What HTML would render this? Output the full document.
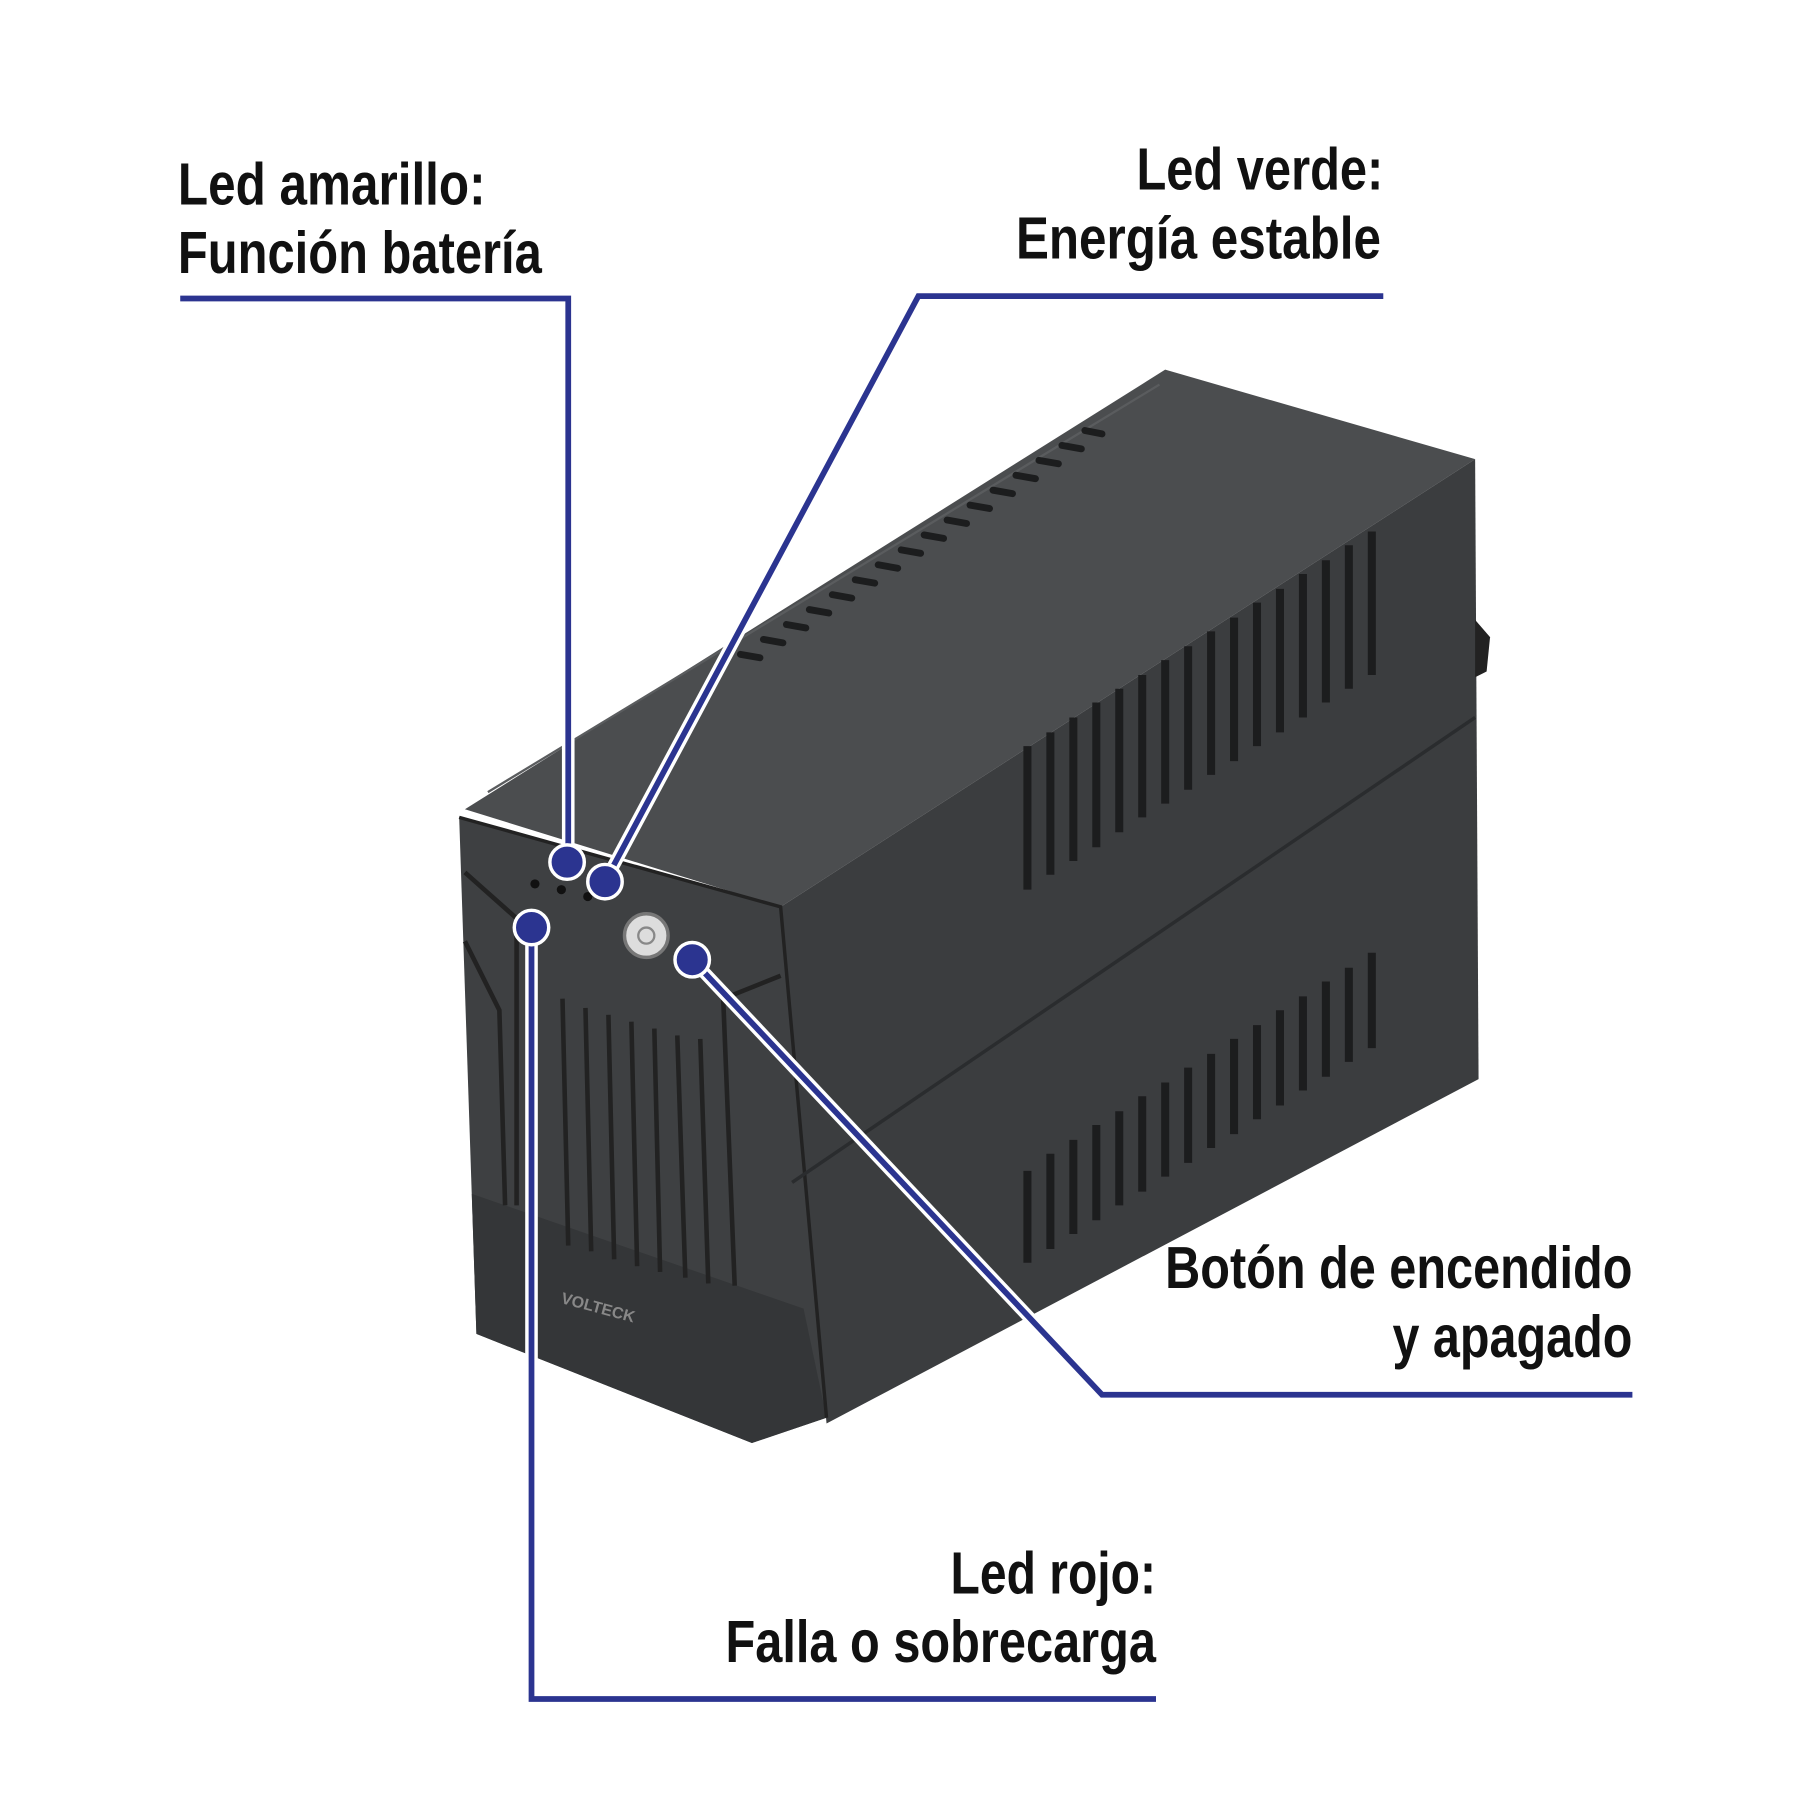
<!DOCTYPE html>
<html><head><meta charset="utf-8"><style>
html,body{margin:0;padding:0;background:#fff;}
svg{display:block;}
text{font-family:"Liberation Sans",sans-serif;font-weight:bold;fill:#111;font-size:52px;}
</style></head><body>
<svg width="1800" height="1800" viewBox="0 0 1568 1568" xmlns="http://www.w3.org/2000/svg">
<polygon points="405,705 1015,322 1285,400 680,790" fill="#4b4d4f"/>
<polygon points="680,790 1285,400 1288,940 720,1240" fill="#3b3d3f"/>
<polygon points="1285,540 1298,555 1295,585 1285,590" fill="#222"/>
<polygon points="400,712 680,790 720,1235 655,1257 415,1162" fill="#3e4042"/>
<polygon points="411,1040 700,1140 720,1235 655,1257 415,1162" fill="#343638"/>
<polyline points="400,712 680,790 720,1235" fill="none" stroke="#222" stroke-width="3"/>
<line x1="690" y1="1030" x2="1285" y2="625" stroke="#2a2c2e" stroke-width="3"/>
<line x1="425" y1="690" x2="1010" y2="335" stroke="#5a5c5e" stroke-width="2"/>
<g stroke="#1c1d1e" stroke-width="6" stroke-linecap="round">
<line x1="945" y1="375" x2="960" y2="378"/><line x1="925" y1="388" x2="942" y2="391"/>
<line x1="905" y1="401" x2="922" y2="404"/><line x1="885" y1="414" x2="902" y2="417"/>
<line x1="865" y1="427" x2="882" y2="430"/><line x1="845" y1="440" x2="862" y2="443"/>
<line x1="825" y1="453" x2="842" y2="456"/><line x1="805" y1="466" x2="822" y2="469"/>
<line x1="785" y1="479" x2="802" y2="482"/><line x1="765" y1="492" x2="782" y2="495"/>
<line x1="745" y1="505" x2="762" y2="508"/><line x1="725" y1="518" x2="742" y2="521"/>
<line x1="705" y1="531" x2="722" y2="534"/><line x1="685" y1="544" x2="702" y2="547"/>
<line x1="665" y1="557" x2="682" y2="560"/><line x1="645" y1="570" x2="662" y2="573"/>
</g>
<g stroke="#1c1d1e" stroke-width="7">
<line x1="895" y1="650" x2="895" y2="775"/><line x1="915" y1="638" x2="915" y2="762"/>
<line x1="935" y1="625" x2="935" y2="750"/><line x1="955" y1="612" x2="955" y2="738"/>
<line x1="975" y1="600" x2="975" y2="725"/><line x1="995" y1="588" x2="995" y2="712"/>
<line x1="1015" y1="575" x2="1015" y2="700"/><line x1="1035" y1="563" x2="1035" y2="688"/>
<line x1="1055" y1="550" x2="1055" y2="675"/><line x1="1075" y1="538" x2="1075" y2="663"/>
<line x1="1095" y1="525" x2="1095" y2="650"/><line x1="1115" y1="513" x2="1115" y2="638"/>
<line x1="1135" y1="500" x2="1135" y2="625"/><line x1="1155" y1="488" x2="1155" y2="612"/>
<line x1="1175" y1="475" x2="1175" y2="600"/><line x1="1195" y1="463" x2="1195" y2="588"/>
</g>
<g stroke="#1c1d1e" stroke-width="7">
<line x1="895" y1="1020" x2="895" y2="1100"/><line x1="915" y1="1005" x2="915" y2="1088"/>
<line x1="935" y1="993" x2="935" y2="1075"/><line x1="955" y1="980" x2="955" y2="1063"/>
<line x1="975" y1="968" x2="975" y2="1050"/><line x1="995" y1="955" x2="995" y2="1038"/>
<line x1="1015" y1="943" x2="1015" y2="1025"/><line x1="1035" y1="930" x2="1035" y2="1013"/>
<line x1="1055" y1="918" x2="1055" y2="1000"/><line x1="1075" y1="905" x2="1075" y2="988"/>
<line x1="1095" y1="893" x2="1095" y2="975"/><line x1="1115" y1="880" x2="1115" y2="963"/>
<line x1="1135" y1="868" x2="1135" y2="950"/><line x1="1155" y1="855" x2="1155" y2="938"/>
<line x1="1175" y1="843" x2="1175" y2="925"/><line x1="1195" y1="830" x2="1195" y2="913"/>
</g>
<g stroke="#222" stroke-width="4">
<line x1="490" y1="870" x2="495" y2="1085"/><line x1="510" y1="878" x2="515" y2="1090"/>
<line x1="530" y1="884" x2="535" y2="1097"/><line x1="550" y1="890" x2="555" y2="1103"/>
<line x1="570" y1="896" x2="575" y2="1108"/><line x1="590" y1="902" x2="597" y2="1113"/>
<line x1="610" y1="905" x2="617" y2="1118"/>
<polyline points="405,760 450,800 450,1050" fill="none"/>
<polyline points="405,820 435,880 440,1050" fill="none"/>
<polyline points="680,850 630,870 640,1120" fill="none"/>
</g>
<text x="488" y="1135" transform="rotate(15 488 1135)" style="font-size:14px;fill:#888">VOLTECK</text>
<circle cx="466" cy="770" r="4" fill="#111"/><circle cx="489" cy="775" r="4" fill="#111"/><circle cx="512" cy="781" r="4" fill="#111"/>
<circle cx="563" cy="815" r="19" fill="#ddd" stroke="#777" stroke-width="3"/>
<circle cx="563" cy="815" r="7" fill="none" stroke="#888" stroke-width="2"/>
<g fill="none" stroke="#fff" stroke-width="11">
<polyline points="495,750 495,260"/>
<polyline points="527,768 800,258"/>
<polyline points="603,836 960,1215"/>
<polyline points="463,808 463,1480"/>
</g>
<g fill="none" stroke="#2b3490" stroke-width="5">
<polyline points="157,260 495,260 495,750"/>
<polyline points="1205,258 800,258 527,768"/>
<polyline points="603,836 960,1215 1422,1215"/>
<polyline points="463,808 463,1480 1007,1480"/>
</g>
<g fill="#2b3490" stroke="#fff" stroke-width="3">
<circle cx="494" cy="751" r="15"/><circle cx="527" cy="768" r="15"/>
<circle cx="603" cy="836" r="15"/><circle cx="463" cy="808" r="15"/>
</g>
<text x="155" y="178" textLength="268" lengthAdjust="spacingAndGlyphs">Led amarillo:</text>
<text x="155" y="238" textLength="317" lengthAdjust="spacingAndGlyphs">Función batería</text>
<text x="990" y="165" textLength="215" lengthAdjust="spacingAndGlyphs">Led verde:</text>
<text x="885" y="225" textLength="318" lengthAdjust="spacingAndGlyphs">Energía estable</text>
<text x="1015" y="1122" textLength="407" lengthAdjust="spacingAndGlyphs">Botón de encendido</text>
<text x="1213" y="1182" textLength="209" lengthAdjust="spacingAndGlyphs">y apagado</text>
<text x="828" y="1388" textLength="179" lengthAdjust="spacingAndGlyphs">Led rojo:</text>
<text x="632" y="1448" textLength="375" lengthAdjust="spacingAndGlyphs">Falla o sobrecarga</text>
</svg>
</body></html>
